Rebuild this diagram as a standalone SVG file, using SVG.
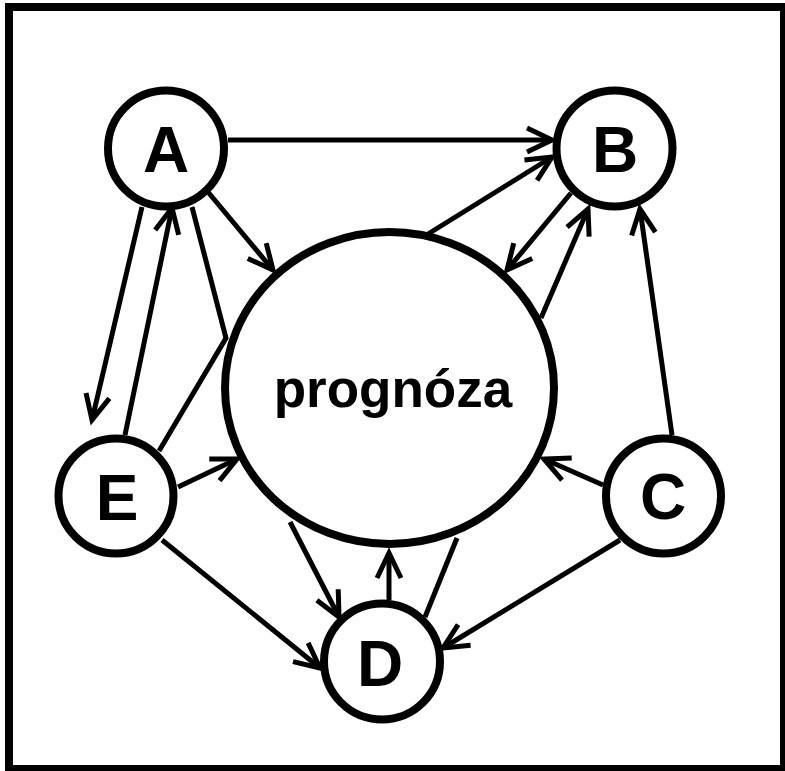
<svg xmlns="http://www.w3.org/2000/svg" width="785" height="771" viewBox="0 0 785 771">
<style>
.node{fill:#fff;stroke:#000;stroke-width:8}
.lbl{font-family:"Liberation Sans",Arial,sans-serif;font-weight:bold;font-size:64px;text-anchor:middle;fill:#000}
.edge{fill:none;stroke:#000;stroke-width:5}
</style>
<defs>
<marker id="arr" markerUnits="userSpaceOnUse" orient="auto" refX="0" refY="0" markerWidth="40" markerHeight="40" viewBox="-30 -20 40 40" overflow="visible">
<path d="M-25,-12 L0,0 L-25,12" fill="none" stroke="#000" stroke-width="5"/>
</marker>
</defs>
<rect x="9" y="7" width="775" height="762" fill="#fff" stroke="#000" stroke-width="8"/>
<g id="connectors">
<line class="edge" x1="228" y1="140" x2="552" y2="140" marker-end="url(#arr)"/>
<line class="edge" x1="208" y1="192" x2="273" y2="270" marker-end="url(#arr)"/>
<line class="edge" x1="428" y1="234" x2="552" y2="157" marker-end="url(#arr)"/>
<line class="edge" x1="571" y1="193" x2="507" y2="270" marker-end="url(#arr)"/>
<line class="edge" x1="541" y1="318" x2="588" y2="209" marker-end="url(#arr)"/>
<line class="edge" x1="672" y1="435" x2="640" y2="209" marker-end="url(#arr)"/>
<line class="edge" x1="603" y1="485" x2="544" y2="459" marker-end="url(#arr)"/>
<line class="edge" x1="620" y1="540" x2="443" y2="648" marker-end="url(#arr)"/>
<line class="edge" x1="290" y1="522" x2="339" y2="617" marker-end="url(#arr)"/>
<line class="edge" x1="389" y1="600" x2="389" y2="553" marker-end="url(#arr)"/>
<line class="edge" x1="425" y1="617" x2="457" y2="538"/>
<line class="edge" x1="162" y1="540" x2="320" y2="668" marker-end="url(#arr)"/>
<line class="edge" x1="178" y1="487" x2="237" y2="459" marker-end="url(#arr)"/>
<line class="edge" x1="125" y1="435" x2="172" y2="208" marker-end="url(#arr)"/>
<line class="edge" x1="142" y1="207" x2="92" y2="420" marker-end="url(#arr)"/>
<polyline class="edge" points="192,207 226,338 159,451"/>
</g>
<g id="prognoza">
<ellipse class="node" cx="389.5" cy="388" rx="164.5" ry="156"/>
<text class="lbl" x="393" y="407" style="font-size:53px">prognóza</text>
</g>
<g id="A">
<circle class="node" cx="166" cy="148.5" r="58"/>
<text class="lbl" x="166" y="172">A</text>
</g>
<g id="B">
<circle class="node" cx="614.5" cy="148.5" r="58"/>
<text class="lbl" x="615" y="172">B</text>
</g>
<g id="E">
<circle class="node" cx="116" cy="496" r="57.5"/>
<text class="lbl" x="117" y="520">E</text>
</g>
<g id="C">
<circle class="node" cx="663.5" cy="496" r="57.5"/>
<text class="lbl" x="663" y="519">C</text>
</g>
<g id="D">
<circle class="node" cx="382" cy="661.5" r="58"/>
<text class="lbl" x="380" y="686">D</text>
</g>
</svg>
